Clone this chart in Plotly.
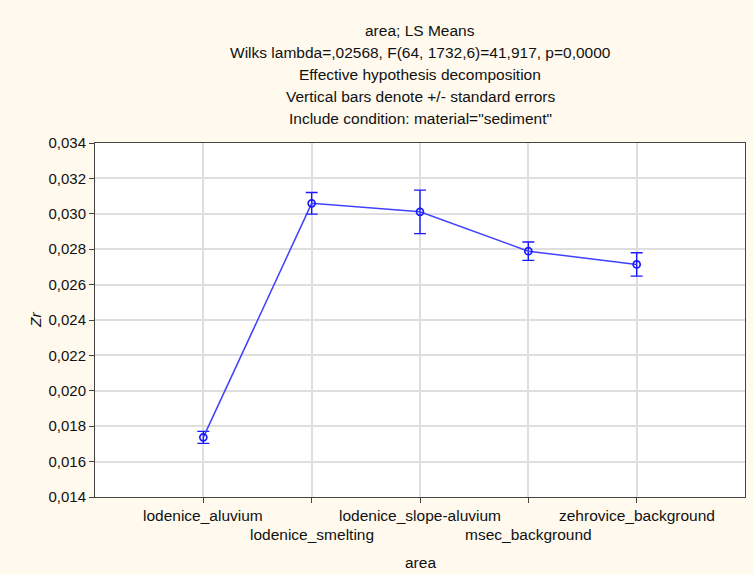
import plotly.graph_objects as go

areas = ["lodenice_aluvium", "lodenice_smelting", "lodenice_slope-aluvium",
         "msec_background", "zehrovice_background"]
means = [0.01737, 0.03059, 0.03011, 0.02789, 0.02714]
std_err = [0.00034, 0.00061, 0.00123, 0.00052, 0.00066]

title_lines = [
    "area; LS Means",
    "Wilks lambda=,02568, F(64, 1732,6)=41,917, p=0,0000",
    "Effective hypothesis decomposition",
    "Vertical bars denote +/- standard errors",
    'Include condition: material="sediment"',
]
y_ticks = [0.014, 0.016, 0.018, 0.020, 0.022, 0.024, 0.026, 0.028, 0.030, 0.032, 0.034]

FONT = "Liberation Sans, Arial, sans-serif"
BLUE = "#1a1aff"
TXT = 15.5

x_idx = list(range(len(areas)))

fig = go.Figure()
fig.add_trace(go.Scatter(
    x=x_idx, y=means, mode="lines+markers",
    line=dict(color="#4040ff", width=1.5),
    marker=dict(symbol="circle-open", size=7, color=BLUE, line=dict(width=1.7, color=BLUE)),
    error_y=dict(type="data", array=std_err, visible=True, color=BLUE, thickness=1.4, width=6),
    showlegend=False, hoverinfo="skip",
))

annotations = []
for i, line in enumerate(title_lines):
    annotations.append(dict(
        text=line, xref="paper", yref="paper", x=0.5, y=1, xanchor="center", yanchor="middle",
        yshift=113 - 22 * i, showarrow=False, font=dict(family=FONT, size=TXT, color="#111111"),
    ))
for i, a in enumerate(areas):
    annotations.append(dict(
        text=a, xref="x", yref="paper", x=i, y=0, xanchor="center", yanchor="middle",
        yshift=-18 if i % 2 == 0 else -37, showarrow=False,
        font=dict(family=FONT, size=TXT, color="#111111"),
    ))
annotations.append(dict(
    text="area", xref="paper", yref="paper", x=0.5, y=0, xanchor="center", yanchor="middle",
    yshift=-65, showarrow=False, font=dict(family=FONT, size=TXT, color="#111111"),
))
annotations.append(dict(
    text="<i>Zr</i>", xref="paper", yref="paper", x=0, y=0.5, xanchor="center", yanchor="middle",
    xshift=-60, textangle=-90, showarrow=False, font=dict(family=FONT, size=TXT, color="#111111"),
))

fig.update_layout(
    width=753, height=574,
    margin=dict(l=95, r=8, t=143, b=77),
    paper_bgcolor="#fff9ee", plot_bgcolor="white",
    separators=", ",
    font=dict(family=FONT, size=15, color="#111111"),
    annotations=annotations,
    xaxis=dict(
        range=[-1, 5], tickvals=x_idx, ticktext=[""] * len(areas),
        showgrid=True, gridcolor="#dedede", gridwidth=1.5,
        ticks="outside", ticklen=5, tickcolor="#444444",
        showline=True, linecolor="#444444", linewidth=1, mirror=True, zeroline=False,
    ),
    yaxis=dict(
        range=[0.014, 0.034], tickvals=y_ticks, tickformat=".3f",
        showgrid=True, gridcolor="#dedede", gridwidth=1.5,
        ticks="outside", ticklen=5, tickcolor="#444444",
        showline=True, linecolor="#444444", linewidth=1, mirror=True, zeroline=False,
    ),
)

fig.write_html("out.html", config={"displayModeBar": False},
               post_script="document.body.style.margin='0';document.body.style.padding='0';")
